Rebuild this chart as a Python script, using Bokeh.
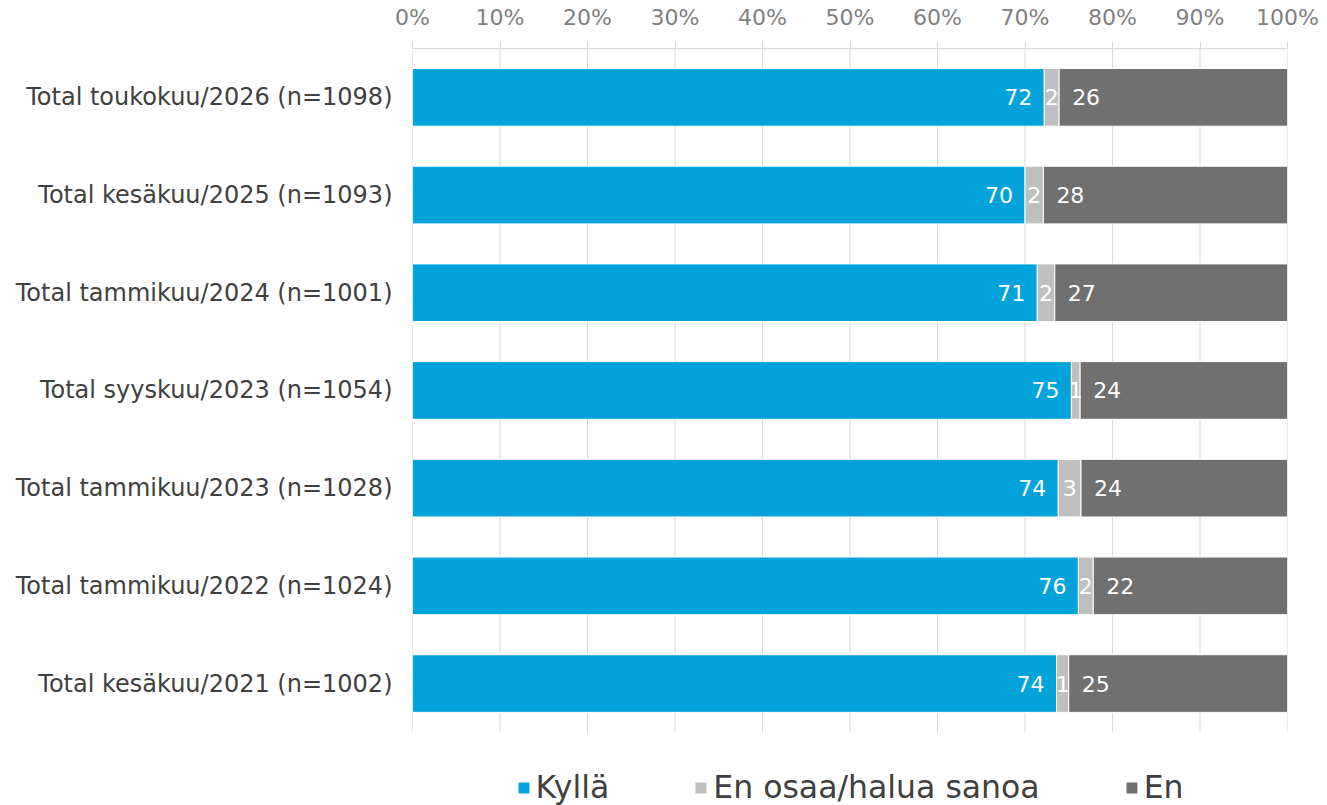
from bokeh.plotting import figure
from bokeh.models import Range1d, FixedTicker, ColumnDataSource, Legend, LegendItem
from bokeh.embed import file_html
from bokeh.resources import INLINE
from bokeh.core.properties import value

# ---- data ----
categories = [
    "Total toukokuu/2026 (n=1098)",
    "Total kesäkuu/2025 (n=1093)",
    "Total tammikuu/2024 (n=1001)",
    "Total syyskuu/2023 (n=1054)",
    "Total tammikuu/2023 (n=1028)",
    "Total tammikuu/2022 (n=1024)",
    "Total kesäkuu/2021 (n=1002)",
]
kylla = [72.2, 70.0, 71.4, 75.3, 73.8, 76.1, 73.6]
eos = [1.7, 2.1, 2.0, 1.0, 2.6, 1.7, 1.4]
en = [26.1, 27.9, 26.6, 23.7, 23.6, 22.2, 25.0]
series_names = ["Kyllä", "En osaa/halua sanoa", "En"]
colors = ["#02A3DA", "#BFBFBF", "#707070"]
tick_values = [0, 10, 20, 30, 40, 50, 60, 70, 80, 90, 100]
tick_labels = ["0%", "10%", "20%", "30%", "40%", "50%", "60%", "70%", "80%", "90%", "100%"]

FONT = "DejaVu Sans"

ypos = list(range(len(categories)))
source = ColumnDataSource(dict(
    y=ypos,
    kylla=kylla,
    eos=eos,
    en=en,
    k_end=[a for a in kylla],
    e_mid=[a + b / 2 for a, b in zip(kylla, eos)],
    e_end=[a + b for a, b in zip(kylla, eos)],
    k_lab=[f"{v:.0f}" for v in kylla],
    e_lab=[f"{v:.0f}" for v in eos],
    n_lab=[f"{v:.0f}" for v in en],
))

p = figure(
    width=1327, height=805,
    x_range=Range1d(0, 100),
    y_range=Range1d(start=7.248, end=-0.5),
    x_axis_location="above",
    toolbar_location=None,
    output_backend="svg",
    min_border_left=412, min_border_right=40,
    min_border_top=48, min_border_bottom=0,
)
p.outline_line_color = None
p.xgrid.visible = False
p.ygrid.visible = False

# grid lines (limited to bar area)
p.segment(x0=tick_values, y0=[-0.5] * len(tick_values),
          x1=tick_values, y1=[len(categories) - 0.5] * len(tick_values),
          line_color="#D9D9D9", line_width=1)

renderers = p.hbar_stack(["kylla", "eos", "en"], y="y", height=0.59,
                         color=colors, line_color="white", line_width=1,
                         source=source)

# data labels
p.text(x="k_end", y="y", text="k_lab", source=source, text_align="right",
       text_baseline="middle", text_color="white", text_font=value(FONT),
       text_font_size="22px", x_offset=-12)
p.text(x="e_mid", y="y", text="e_lab", source=source, text_align="center",
       text_baseline="middle", text_color="white", text_font=value(FONT),
       text_font_size="22px")
p.text(x="e_end", y="y", text="n_lab", source=source, text_align="left",
       text_baseline="middle", text_color="white", text_font=value(FONT),
       text_font_size="22px", x_offset=13)

# x axis (top)
xa = p.xaxis[0]
xa.ticker = FixedTicker(ticks=tick_values)
xa.major_label_overrides = {v: l for v, l in zip(tick_values, tick_labels)}
xa.axis_line_color = "#D9D9D9"
xa.major_tick_line_color = "#D9D9D9"
xa.major_tick_in = 0
xa.major_tick_out = 7
xa.minor_tick_line_color = None
xa.major_label_text_font = FONT
xa.major_label_text_font_size = "22px"
xa.major_label_text_color = "#808080"
xa.major_label_standoff = 12

# y axis
ya = p.yaxis[0]
ya.ticker = FixedTicker(ticks=ypos)
ya.major_label_overrides = {i: c for i, c in zip(ypos, categories)}
ya.axis_line_color = None
ya.major_tick_line_color = None
ya.minor_tick_line_color = None
ya.major_label_text_font = FONT
ya.major_label_text_font_size = "24px"
ya.major_label_text_color = "#404040"
ya.major_label_standoff = 14

legend = Legend(
    items=[LegendItem(label=n, renderers=[r]) for n, r in zip(series_names, renderers)],
    orientation="horizontal", location="bottom_center",
    border_line_color=None, background_fill_alpha=0,
    label_text_font=FONT, label_text_font_size="31.5px", label_text_color="#404040",
    glyph_width=15, glyph_height=15, spacing=84, padding=0, margin=0,
    label_standoff=5,
)
p.add_layout(legend)

open("out.html", "w").write(file_html(p, INLINE))
